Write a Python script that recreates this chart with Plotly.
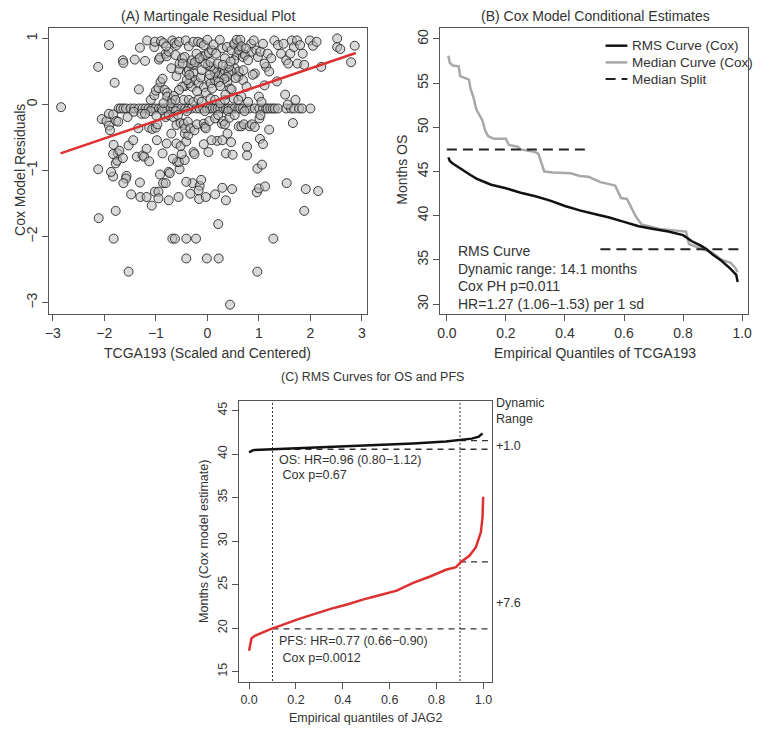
import plotly.graph_objects as go

# ---- panel A: martingale residuals vs scaled TCGA193 ----
resid_x = [
    0.44, -1.53, 0.97, -0.41, -0.01, 0.22, -1.82, -0.68, -0.63, -0.41, -0.22, 1.28, 0.21, -2.11, -1.78, 1.88,
    -1.48, -1.30, -1.18, -1.08, -1.02, -0.95, -0.95, -0.75, -0.56, -0.33, -0.16, -0.03, 0.15, 0.29, 0.36, 0.48,
    -0.29, -0.15, -0.12, -0.17, 0.96, 1.00, 1.12, 1.54, 1.91, 2.15, -1.31, -1.57, -1.58, -1.63, -1.83, -1.87,
    -0.92, -0.75, -0.73, -0.86, -0.81, -0.54, -0.59, -0.55, -0.41, -0.44, -0.07, 0.02, 0.97, 1.06, 0.77, 0.77,
    1.02, 1.08, -2.12,
    -1.78, -1.75, -1.74, -1.82, -1.83, -1.71, -1.64, -1.53, -1.44, -1.37, -1.26, -1.23, -1.18, -1.13, -0.98,
    -0.87, -0.79, -0.67, -0.50, -0.27, -0.25, 0.19, 0.29, 0.36, 0.46, 0.49, 0.08, 0.39, -0.60, -0.52, -0.44,
    -0.41, -0.37, -0.70,
    -1.72, -1.68, -1.63, -1.58, -1.49, -1.42, -1.33, -1.26, -1.20, -1.14, -1.07, -1.01, -0.94, -0.89, -0.83,
    -0.78, -0.72, -0.66, -0.59, -0.50, -0.43, -0.37, -0.31, -0.21, -0.15, -0.08, -0.01, 0.05, 0.10, 0.15,
    0.20, 0.25, 0.31, 0.36, 0.41, 0.47, 0.53, 0.60, 0.64, 0.69, 0.76, 0.82, 0.92, 1.01, 1.08, 1.14, 1.17,
    1.22, 1.27, 1.31, 1.37, 1.53, 1.62, 1.68, 1.78, 1.84, 2.00, -0.40, -0.05, 0.40, 0.72, -1.10, -0.62,
    -2.05, -1.96, -1.91, -1.89, -1.91, -1.83, -1.77, -1.73, -1.55, -1.43, -1.34, -1.28, -1.21, -1.13, -1.07,
    -1.00, -0.97, -0.99, -0.87, -0.81, -0.75, -0.66, -0.60, -0.57, -0.52, -0.46, -0.43, -0.38, -0.33, -0.25,
    -0.20, -0.07, -0.05, -0.03, 0.04, 0.15, 0.21, 0.28, 0.31, 0.34, 0.43, 0.53, 0.61, 0.66, 0.71, 0.82, 0.86,
    0.92, 1.01, 1.03, 1.20, 1.66,
    -2.84, -1.80, -1.33, -1.10, -1.03, -1.00, -0.95, -0.91, -0.87, -0.83, -0.78, -0.78, -0.68, -0.60, -0.55,
    -0.46, -0.44, -0.40, -0.36, -0.33, -0.30, -0.27, -0.24, -0.17, -0.13, -0.11, -0.07, -0.03, 0.03, 0.06,
    0.09, 0.15, 0.20, 0.24, 0.28, 0.34, 0.39, 0.44, 0.47, 0.51, 0.60, 0.66, 0.69, 0.76, 0.92, 1.00, 1.05,
    1.11, 1.14, 1.35, 1.51, 1.56, 1.71,
    0.53, 0.60, 0.63, 0.67, 0.57, 0.52, 0.53, 0.61, 0.47, 0.41, 0.38, 0.33, 0.22, 0.25, 0.15, 0.12, 0.06,
    0.01, -0.04, -0.10, -0.18, -0.27, -0.36, -0.40, -0.49, -0.55, -0.65, -0.71, -0.62, -0.36, -0.27, -0.17,
    -0.11, 0.06, 0.15, 0.25, 0.34, 0.60, 0.79,
    -1.91, -2.12, -1.64, -1.63, -1.41, -1.31, -1.21, -1.17, -1.03, -1.02, -0.94, -0.92, -0.90, -0.85, -0.81,
    -0.79, -0.75, -0.68, -0.64, -0.60, -0.55, -0.62, -0.54, -0.49, -0.44, -0.42, -0.36, -0.32, -0.30, -0.27,
    -0.24, -0.21, -0.18, -0.12, -0.07, -0.03, 0.00, 0.03, 0.06, 0.09, 0.12, 0.17, 0.20, 0.24, 0.29, 0.34,
    0.38, 0.42, 0.47, 0.52, 0.57, 0.61, 0.64, 0.66, 0.69, 0.73, 0.79, 0.85, 0.86, 0.90, 0.95, 0.98, 1.03,
    1.08, 1.11, 1.17, 1.24, 1.30, 1.37, 1.43, 1.48, 1.53, 1.57, 1.61, 1.64, 1.68, 1.74, 1.75, 1.80, 1.85,
    1.88, 1.99, 2.05, 2.12, 2.21, 2.52, 2.52, 2.58, 2.79, 2.86,
    -0.80, -0.70, -0.48, -0.35, -0.15, 0.05, 0.30, 0.45, 0.70, 0.88, 1.20, 0.75, 0.55, 0.35, -0.20, -0.85,
]
resid_y = [
    -3.03, -2.53, -2.53, -2.33, -2.33, -2.33, -2.03, -2.03, -2.03, -2.03, -2.03, -2.03, -1.81, -1.72, -1.61, -1.61,
    -1.36, -1.40, -1.40, -1.53, -1.32, -1.32, -1.42, -1.45, -1.40, -1.35, -1.43, -1.40, -1.36, -1.26, -1.45, -1.28,
    -1.19, -1.23, -1.14, -1.30, -1.33, -1.27, -1.24, -1.19, -1.28, -1.31, -1.18, -1.08, -1.12, -1.19, -1.09, -1.02,
    -1.06, -1.02, -1.04, -1.19, -1.19, -0.98, -0.87, -0.87, -1.17, -0.84, -0.60, -0.72, -0.97, -0.91, -0.64, -0.77,
    -0.52, -0.60, -0.98,
    -0.89, -0.85, -0.74, -0.61, -0.75, -0.70, -0.81, -0.62, -0.54, -0.79, -0.77, -0.79, -0.67, -0.86, -0.54,
    -0.74, -0.59, -0.82, -0.75, -0.72, -0.75, -0.55, -0.54, -0.74, -0.57, -0.76, -0.54, -0.44, -0.59, -0.63, -0.44,
    -0.56, -0.46, -0.44,
    -0.06, -0.06, -0.06, -0.06, -0.06, -0.06, -0.06, -0.06, -0.06, -0.06, -0.06, -0.06, -0.06, -0.06, -0.06,
    -0.06, -0.06, -0.06, -0.06, -0.06, -0.06, -0.06, -0.06, -0.06, -0.06, -0.06, -0.06, -0.06, -0.06, -0.06,
    -0.06, -0.06, -0.06, -0.06, -0.06, -0.06, -0.06, -0.06, -0.06, -0.06, -0.06, -0.06, -0.06, -0.06, -0.06, -0.06,
    -0.06, -0.06, -0.06, -0.06, -0.06, -0.06, -0.06, -0.06, -0.06, -0.06, -0.06, -0.10, -0.10, -0.10, -0.10, -0.10, -0.10,
    -0.22, -0.25, -0.32, -0.39, -0.14, -0.15, -0.25, -0.26, -0.19, -0.11, -0.36, -0.14, -0.14, -0.35, -0.37,
    -0.35, -0.30, -0.17, -0.09, -0.19, -0.16, -0.19, -0.31, -0.16, -0.28, -0.29, -0.36, -0.26, -0.36, -0.39,
    -0.30, -0.29, -0.34, -0.36, -0.25, -0.21, -0.16, -0.29, -0.25, -0.30, -0.20, -0.16, -0.33, -0.33, -0.30, -0.33, -0.30,
    -0.34, -0.21, -0.16, -0.38, -0.28,
    -0.04, 0.33, 0.23, 0.07, 0.14, 0.21, 0.25, 0.34, 0.39, 0.22, 0.18, 0.12, 0.08, 0.43, 0.53,
    0.07, 0.28, 0.49, 0.52, 0.40, 0.27, 0.48, 0.37, 0.32, 0.41, 0.52, 0.26, 0.18, 0.39, 0.32,
    0.24, 0.37, 0.41, 0.48, 0.45, 0.51, 0.34, 0.24, 0.23, 0.09, 0.42, 0.12, 0.37, 0.27, 0.47, 0.12, 0.04,
    0.29, 0.57, 0.35, 0.15, 0.00, 0.07,
    0.90, 0.93, 0.83, 0.78, 0.75, 0.67, 0.55, 0.50, 0.50, 0.48, 0.42, 0.39, 0.34, 0.28, 0.48, 0.54, 0.57,
    0.60, 0.62, 0.73, 0.68, 0.60, 0.32, 0.37, 0.27, 0.22, 0.13, 0.02, 0.07, 0.07, 0.04, 0.08,
    0.04, 0.09, 0.07, 0.02, 0.07, 0.07, 0.04,
    0.90, 0.57, 0.67, 0.63, 0.68, 0.86, 0.66, 0.97, 0.87, 0.95, 0.68, 0.71, 0.96, 0.93, 0.77,
    0.73, 0.80, 0.97, 0.93, 0.90, 0.95, 0.75, 0.62, 0.70, 0.72, 0.97, 0.88, 0.62, 0.67, 0.95,
    0.64, 0.77, 0.95, 0.93, 0.90, 0.75, 0.98, 0.78, 0.64, 0.82, 0.91, 0.77, 0.62, 0.98, 0.85, 0.70,
    0.87, 0.57, 0.82, 0.92, 0.98, 0.82, 0.98, 0.88, 0.72, 0.75, 0.67, 0.92, 0.80, 0.97, 0.82, 0.72, 0.80,
    0.92, 0.62, 0.77, 0.70, 0.97, 0.90, 0.77, 0.92, 0.67, 0.62, 0.77, 0.97, 0.87, 0.97, 0.62, 0.90, 0.77,
    0.60, 0.97, 0.89, 0.95, 0.57, 1.00, 0.87, 0.84, 0.64, 0.89,
    0.88, 0.55, 0.62, 0.45, 0.70, 0.45, 0.60, 0.65, 0.52, 0.45, 0.50, 0.85, 0.40, 0.15, 0.20, 0.02,
]
fit_x = [-2.85, 2.88]
fit_y = [-0.74, 0.78]

# ---- panel B: conditional estimates vs empirical quantiles ----
rms_q = [0.005, 0.01, 0.02, 0.05, 0.08, 0.10, 0.15, 0.20, 0.25, 0.30, 0.35, 0.40, 0.45, 0.50, 0.55,
         0.60, 0.65, 0.70, 0.75, 0.80, 0.83, 0.86, 0.88, 0.90, 0.93, 0.96, 0.98, 0.985]
rms_os = [46.6, 46.2, 45.9, 45.2, 44.6, 44.2, 43.5, 43.1, 42.6, 42.2, 41.7, 41.1, 40.6, 40.2, 39.8,
          39.3, 38.8, 38.5, 38.2, 37.8, 37.1, 36.6, 36.2, 35.6, 34.9, 34.0, 33.3, 32.5]
med_q = [0.005, 0.01, 0.02, 0.04, 0.045, 0.06, 0.075, 0.08, 0.09, 0.10, 0.12, 0.13, 0.14, 0.16, 0.20,
         0.21, 0.24, 0.25, 0.30, 0.31, 0.33, 0.36, 0.42, 0.45, 0.48, 0.52, 0.56, 0.57, 0.59, 0.61,
         0.64, 0.66, 0.72, 0.78, 0.81, 0.82, 0.86, 0.90, 0.93, 0.96, 0.975, 0.985]
med_os = [58.1, 57.3, 57.0, 56.9, 55.8, 55.6, 55.4, 54.4, 53.4, 52.0, 50.8, 49.6, 49.0, 48.7, 48.7,
          48.0, 47.8, 47.5, 47.2, 47.0, 45.0, 44.9, 44.8, 44.5, 44.4, 43.8, 43.5, 43.4, 42.0, 41.9,
          39.9, 39.0, 38.5, 38.3, 38.2, 36.8, 36.3, 35.8, 35.0, 34.7, 34.2, 33.6]
split_lo_q = [0.0, 0.48]
split_lo_os = [47.5, 47.5]
split_hi_q = [0.52, 1.0]
split_hi_os = [36.2, 36.2]
legend_names = ["RMS Curve (Cox)", "Median Curve (Cox)", "Median Split"]

# ---- panel C: RMS curves for OS and PFS by JAG2 quantile ----
jag_q = [0.0, 0.017, 0.10, 0.28, 0.42, 0.56, 0.70, 0.84, 0.90, 0.95, 0.98, 0.996]
os_rms = [40.2, 40.45, 40.55, 40.75, 40.86, 41.0, 41.2, 41.43, 41.58, 41.77, 42.0, 42.37]
pfs_q = [0.0, 0.005, 0.01, 0.024, 0.05, 0.094, 0.137, 0.207, 0.277, 0.348, 0.418, 0.489, 0.56, 0.63,
         0.70, 0.77, 0.84, 0.883, 0.904, 0.94, 0.968, 0.989, 0.996, 0.999]
pfs_rms = [17.4, 18.0, 18.8, 19.1, 19.4, 19.9, 20.3, 21.0, 21.6, 22.2, 22.7, 23.3, 23.8, 24.3,
           25.2, 25.9, 26.7, 27.0, 27.6, 28.3, 29.3, 31.0, 32.7, 35.1]
cut_q = [0.1, 0.9]
os_at_cut = [40.55, 41.55]
pfs_at_cut = [19.9, 27.6]
dyn_labels = ["+1.0", "+7.6"]
dyn_label_y = [40.94, 22.9]

FONT = "Liberation Sans, Arial, sans-serif"
AX = "#555555"
OFF = 8                          # default page body margin around the plot div
W, H = 763 - 2 * OFF, 733 - 2 * OFF


def px_x(p):
    # screen pixel -> paper fraction
    return (p - OFF) / W


def px_y(p):
    return 1 - (p - OFF) / H


fig = go.Figure()

# A
fig.add_trace(go.Scatter(x=resid_x, y=resid_y, mode="markers", xaxis="x", yaxis="y",
                         marker=dict(size=9, color="rgba(185,185,185,0.55)",
                                     line=dict(color="rgba(30,30,30,0.85)", width=1)),
                         showlegend=False))
fig.add_trace(go.Scatter(x=fit_x, y=fit_y, mode="lines", xaxis="x", yaxis="y",
                         line=dict(color="#dd3030", width=2.5), showlegend=False))

# B
b_styles = [dict(color="#111111", width=2.5), dict(color="#a8a8a8", width=2.5),
            dict(color="#222222", width=2, dash="10px,6px")]
fig.add_trace(go.Scatter(x=med_q, y=med_os, mode="lines", xaxis="x2", yaxis="y2",
                         line=b_styles[1], name=legend_names[1], showlegend=False))
fig.add_trace(go.Scatter(x=rms_q, y=rms_os, mode="lines", xaxis="x2", yaxis="y2",
                         line=b_styles[0], name=legend_names[0], showlegend=False))
fig.add_trace(go.Scatter(x=split_lo_q + [None] + split_hi_q, y=split_lo_os + [None] + split_hi_os,
                         mode="lines", xaxis="x2", yaxis="y2",
                         line=b_styles[2], name=legend_names[2], showlegend=False))

# C
for q in cut_q:
    fig.add_trace(go.Scatter(x=[q, q], y=[13.0, 47.0], mode="lines", xaxis="x3", yaxis="y3",
                             line=dict(color="#333333", width=1, dash="2px,2px"), showlegend=False,
                             hoverinfo="skip"))
for i in range(2):
    for lvl in (os_at_cut[i], pfs_at_cut[i]):
        fig.add_trace(go.Scatter(x=[cut_q[i], 1.1], y=[lvl, lvl], mode="lines", xaxis="x3", yaxis="y3",
                                 line=dict(color="#333333", width=1.3, dash="6px,5px"),
                                 showlegend=False, hoverinfo="skip"))
fig.add_trace(go.Scatter(x=jag_q, y=os_rms, mode="lines", xaxis="x3", yaxis="y3",
                         line=dict(color="#111111", width=2.5), showlegend=False))
fig.add_trace(go.Scatter(x=pfs_q, y=pfs_rms, mode="lines", xaxis="x3", yaxis="y3",
                         line=dict(color="#dd3030", width=2.5), showlegend=False))

axis_common = dict(showgrid=False, zeroline=False, showline=True, mirror=True, linecolor=AX,
                   linewidth=1, ticks="outside", ticklen=6, tickcolor=AX,
                   ticklabeloverflow="allow",
                   tickfont=dict(family=FONT, size=14, color="#333333"))
small_ticks = dict(family=FONT, size=12.5, color="#333333")

fig.update_layout(
    width=W, height=H, margin=dict(l=0, r=0, t=0, b=0),
    paper_bgcolor="white", plot_bgcolor="white",
    font=dict(family=FONT, size=14, color="#333333"),
    showlegend=False,
    xaxis=dict(axis_common, domain=[px_x(45.7), px_x(366.7)], range=[-3.069, 3.096],
               tickvals=[-3, -2, -1, 0, 1, 2, 3], ticktext=["−3", "−2", "−1", "0", "1", "2", "3"],
               anchor="y"),
    yaxis=dict(axis_common, domain=[px_y(314), px_y(27.5)], range=[-3.171, 1.166],
               tickvals=[-3, -2, -1, 0, 1], ticktext=["−3", "−2", "−1", "0", "1"],
               tickangle=-90, anchor="x"),
    xaxis2=dict(axis_common, domain=[px_x(441), px_x(752)], range=[-0.022, 1.02],
                tickvals=[0, 0.2, 0.4, 0.6, 0.8, 1.0], tickformat=".1f", anchor="y2"),
    yaxis2=dict(axis_common, domain=[px_y(314), px_y(28.3)], range=[28.87, 61.21],
                tickvals=[30, 35, 40, 45, 50, 55, 60], tickangle=-90, anchor="x2"),
    xaxis3=dict(axis_common, domain=[px_x(237.7), px_x(493.3)], range=[-0.042, 1.037],
                tickvals=[0, 0.2, 0.4, 0.6, 0.8, 1.0], tickformat=".1f", anchor="y3",
                tickfont=small_ticks),
    yaxis3=dict(axis_common, domain=[px_y(682), px_y(400.7)], range=[13.8, 46.13],
                tickvals=[15, 20, 25, 30, 35, 40, 45], tickangle=-90, anchor="x3",
                tickfont=small_ticks),
)


def label(text, x, y, size=14, angle=0, xanchor="center", xref="paper", yref="paper"):
    fig.add_annotation(text=text, x=x, y=y, xref=xref, yref=yref, showarrow=False,
                       textangle=angle, xanchor=xanchor, yanchor="middle",
                       font=dict(family=FONT, size=size, color="#333333"))


# titles and axis titles
label("(A) Martingale Residual Plot", px_x(206), px_y(16))
label("(B) Cox Model Conditional Estimates", px_x(598), px_y(16))
label("TCGA193 (Scaled and Centered)", px_x(206), px_y(353))
label("Empirical Quantiles of TCGA193", px_x(597), px_y(353))
label("Cox Model Residuals", px_x(16), px_y(170), angle=-90)
label("Months OS", px_x(402), px_y(170), angle=-90)
label("(C) RMS Curves for OS and PFS", px_x(372), px_y(377), size=12.5)
label("Empirical quantiles of JAG2", px_x(366), px_y(717.5), size=12.5)
label("Months (Cox model estimate)", px_x(202), px_y(541), size=12.5, angle=-90)

# panel B legend (top right, R style)
for i, (name, st) in enumerate(zip(legend_names, b_styles)):
    yy = px_y(45.7 + 16.7 * i)
    fig.add_shape(type="line", xref="paper", yref="paper", x0=px_x(608), x1=px_x(630), y0=yy, y1=yy,
                  line=st)
    label(name, px_x(633), yy, size=13.5, xanchor="left")

# panel B notes
notes_b = ["RMS Curve", "Dynamic range: 14.1 months", "Cox PH p=0.011", "HR=1.27 (1.06−1.53) per 1 sd"]
notes_b_y = [36.0, 34.0, 32.0, 30.0]
for t, yy in zip(notes_b, notes_b_y):
    label(t, 0.03, yy, xanchor="left", xref="x2", yref="y2")

# panel C notes
label("OS: HR=0.96 (0.80−1.12)", 0.12, 39.36, size=12.5, xanchor="left", xref="x3", yref="y3")
label(" Cox p=0.67", 0.12, 37.56, size=12.5, xanchor="left", xref="x3", yref="y3")
label("PFS: HR=0.77 (0.66−0.90)", 0.12, 18.46, size=12.5, xanchor="left", xref="x3", yref="y3")
label(" Cox p=0.0012", 0.12, 16.58, size=12.5, xanchor="left", xref="x3", yref="y3")
label("Dynamic", px_x(495.5), px_y(402.7), size=12.5, xanchor="left")
label("Range", px_x(495.5), px_y(419.3), size=12.5, xanchor="left")
for t, yy in zip(dyn_labels, dyn_label_y):
    label(t, px_x(495.5), yy, size=12.5, xanchor="left", xref="paper", yref="y3")

fig.write_html("out.html")
